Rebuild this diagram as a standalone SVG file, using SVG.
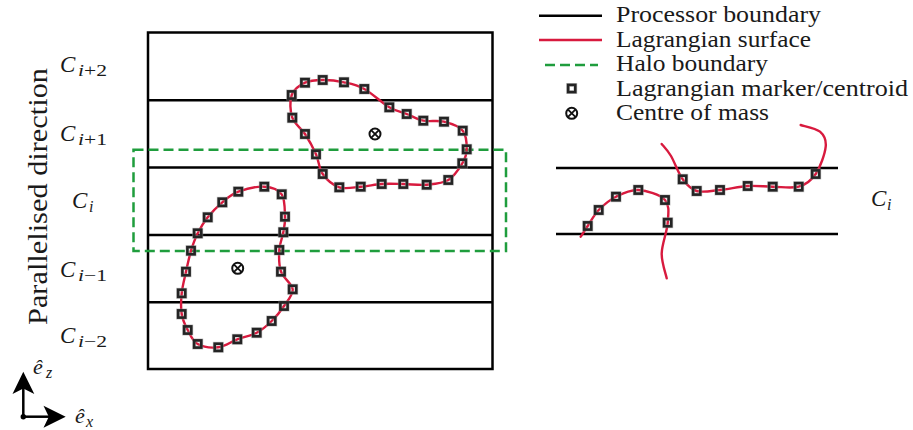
<svg xmlns="http://www.w3.org/2000/svg" xmlns:xlink="http://www.w3.org/1999/xlink" width="913" height="430" viewBox="0 0 913 430">
<style>
.pb{stroke:#000;stroke-width:2.5;fill:none}
.ls{stroke:#d81a3e;stroke-width:2.4;fill:none;stroke-linecap:round}
.hb{stroke:#1f9d3d;stroke-width:2.5;stroke-dasharray:10 5;fill:none}
.t,.m,.s{font-family:"Liberation Serif",serif;fill:#1a1a1a}
.t{font-size:24px}
.m{font-style:italic;font-size:23px}
.s{font-size:16px}
.ax{stroke:#000;stroke-width:2.5;fill:none}
</style>
<defs>
<g id="mk"><rect x="-3.6" y="-3.6" width="7.2" height="7.2" fill="none" stroke="#9a9a9a" stroke-width="3.8" stroke-opacity="0.6"/><rect x="-3.6" y="-3.6" width="7.2" height="7.2" fill="none" stroke="#242424" stroke-width="2.6"/></g>
<g id="com"><circle r="5.5" fill="none" stroke="#111" stroke-width="2"/><path d="M-3.9,-3.9L3.9,3.9M-3.9,3.9L3.9,-3.9" stroke="#111" stroke-width="1.8"/></g>
</defs>
<rect width="913" height="430" fill="#fff"/>

<g id="legend">
<line class="pb" x1="539" y1="15.7" x2="602" y2="15.7"/>
<line class="ls" x1="539" y1="40" x2="602" y2="40" style="stroke-linecap:butt"/>
<line class="hb" x1="545" y1="65" x2="598" y2="65"/>
<use href="#mk" xlink:href="#mk" x="571.7" y="88.5"/>
<use href="#com" xlink:href="#com" x="571.7" y="113.3"/>
<text class="t" x="616" y="22" textLength="205" lengthAdjust="spacingAndGlyphs">Processor boundary</text>
<text class="t" x="616" y="46.5" textLength="195" lengthAdjust="spacingAndGlyphs">Lagrangian surface</text>
<text class="t" x="616" y="71" textLength="152" lengthAdjust="spacingAndGlyphs">Halo boundary</text>
<text class="t" x="616" y="96" textLength="292" lengthAdjust="spacingAndGlyphs">Lagrangian marker/centroid</text>
<text class="t" x="616" y="120" textLength="153" lengthAdjust="spacingAndGlyphs">Centre of mass</text>
</g>

<g id="processor-grid">
<rect class="pb" x="148" y="32.5" width="344.5" height="336.5"/>
<line class="pb" x1="148" y1="100.2" x2="492.5" y2="100.2"/>
<line class="pb" x1="148" y1="167.5" x2="492.5" y2="167.5"/>
<line class="pb" x1="148" y1="235" x2="492.5" y2="235"/>
<line class="pb" x1="148" y1="302.3" x2="492.5" y2="302.3"/>
</g>

<g id="right-cell">
<line class="pb" x1="556" y1="168" x2="838" y2="168"/>
<line class="pb" x1="556" y1="234" x2="838" y2="234"/>
</g>

<g id="halo">
<rect class="hb" x="133.5" y="149.7" width="372.5" height="101.3"/>
</g>

<g id="surfaces">
<path id="upper-body" class="ls" d="M291.7,95 C293.8,89.2 299.8,85.2 305,82.7 C310.2,80.2 316.2,80.1 322.7,80 C329.2,79.9 337.1,80.8 344,82.3 C350.9,83.8 356.8,84.8 364.3,89 C371.9,93.2 382.2,103.1 389.3,107.3 C396.4,111.5 401,111.8 406.7,114 C412.4,116.2 417.1,119.4 423.3,120.7 C429.5,122 437.4,120 444,121.7 C450.6,123.4 458.9,126.1 462.7,130.7 C466.5,135.3 466.8,143.9 466.7,149.3 C466.6,154.7 465.4,158.2 462.3,163.3 C459.2,168.4 454.2,176.4 448.3,180 C442.4,183.6 434.2,184 426.7,184.7 C419.2,185.4 410.8,184.1 403.3,184 C395.8,183.9 388.8,183.6 381.7,184 C374.6,184.5 367.8,186.2 360.7,186.7 C353.6,187.3 345.6,189.4 339.3,187.3 C333,185.2 326.6,179.5 322.7,174 C318.8,168.5 319,161 316,154.3 C313.1,147.6 309,140.1 305,134 C301.1,127.9 294.5,124.2 292.3,117.7 C290.1,111.2 289.6,100.8 291.7,95 Z"/>
<path id="lower-body" class="ls" d="M264.3,186.7 C271.5,187.1 278.3,189.3 281.7,194.3 C285.2,199.3 284.7,210.4 285,216.7 C285.3,223 284.3,226.8 283.3,232.3 C282.4,237.9 279.7,243.4 279.3,250 C278.9,256.6 278.8,265.2 281,271.7 C283.2,278.3 292.2,283.6 292.7,289.3 C293.2,295 287.5,300.7 284,306 C280.5,311.3 276.3,316.6 271.7,321 C267.2,325.5 262.4,329.7 256.7,332.7 C251,335.8 243.7,336.9 237.3,339.3 C230.9,341.7 224.9,346.5 218.3,347.3 C211.7,348.1 202.8,346.9 197.7,344 C192.6,341.1 190.4,335 187.7,330 C185,325 182.7,320.1 181.7,314 C180.7,307.9 181,300.4 181.7,293.3 C182.4,286.3 184.5,278.8 186,271.7 C187.6,264.6 189.1,257.1 191,250.7 C193,244.3 194.9,238.9 197.7,233.3 C200.5,227.7 203.6,222.5 207.7,217.3 C211.8,212.1 217.2,206.6 222.3,202.3 C227.4,198 231.3,194.3 238.3,191.7 C245.3,189.1 257.1,186.3 264.3,186.7 Z"/>
<path id="right-upper" class="ls" d="M661.7,144 C663.3,146 667.5,150.1 671,156 C674.5,161.9 678.4,173.5 682.7,179.3 C687,185.1 690.5,189.2 696.7,191 C702.9,192.8 711.5,190.8 720,190 C728.5,189.2 738.9,186.6 747.7,186 C756.5,185.5 764.2,186.6 772.7,186.7 C781.2,186.8 791.5,188.8 798.7,186.7 C805.9,184.6 811.2,180.7 815.7,174 C820.2,167.3 825,153.8 825.7,146.7 C826.4,139.7 824.2,135.3 820,131.7 C815.8,128.1 803.9,126.1 800.7,125"/>
<path id="right-lower" class="ls" d="M580.7,236.7 C581.9,234.9 584.7,230.5 587.7,226 C590.7,221.6 594,214.9 598.7,210 C603.4,205.1 609.4,200 616,196.7 C622.6,193.4 630.1,189.5 638.3,190 C646.5,190.6 660.1,194.6 665,200 C669.9,205.5 668.3,213.8 667.7,222.7 C667.2,231.6 661.9,244 661.7,253.3 C661.5,262.6 665.9,274.1 666.7,278.3"/>
</g>

<g id="markers">
<use href="#mk" xlink:href="#mk" x="291.7" y="95"/>
<use href="#mk" xlink:href="#mk" x="305" y="82.7"/>
<use href="#mk" xlink:href="#mk" x="322.7" y="80"/>
<use href="#mk" xlink:href="#mk" x="344" y="82.3"/>
<use href="#mk" xlink:href="#mk" x="364.3" y="89"/>
<use href="#mk" xlink:href="#mk" x="389.3" y="107.3"/>
<use href="#mk" xlink:href="#mk" x="406.7" y="114"/>
<use href="#mk" xlink:href="#mk" x="423.3" y="120.7"/>
<use href="#mk" xlink:href="#mk" x="444" y="121.7"/>
<use href="#mk" xlink:href="#mk" x="462.7" y="130.7"/>
<use href="#mk" xlink:href="#mk" x="466.7" y="149.3"/>
<use href="#mk" xlink:href="#mk" x="462.3" y="163.3"/>
<use href="#mk" xlink:href="#mk" x="448.3" y="180"/>
<use href="#mk" xlink:href="#mk" x="426.7" y="184.7"/>
<use href="#mk" xlink:href="#mk" x="403.3" y="184"/>
<use href="#mk" xlink:href="#mk" x="381.7" y="184"/>
<use href="#mk" xlink:href="#mk" x="360.7" y="186.7"/>
<use href="#mk" xlink:href="#mk" x="339.3" y="187.3"/>
<use href="#mk" xlink:href="#mk" x="322.7" y="174"/>
<use href="#mk" xlink:href="#mk" x="316" y="154.3"/>
<use href="#mk" xlink:href="#mk" x="305" y="134"/>
<use href="#mk" xlink:href="#mk" x="292.3" y="117.7"/>

<use href="#mk" xlink:href="#mk" x="264.3" y="186.7"/>
<use href="#mk" xlink:href="#mk" x="281.7" y="194.3"/>
<use href="#mk" xlink:href="#mk" x="285" y="216.7"/>
<use href="#mk" xlink:href="#mk" x="283.3" y="232.3"/>
<use href="#mk" xlink:href="#mk" x="279.3" y="250"/>
<use href="#mk" xlink:href="#mk" x="281" y="271.7"/>
<use href="#mk" xlink:href="#mk" x="292.7" y="289.3"/>
<use href="#mk" xlink:href="#mk" x="284" y="306"/>
<use href="#mk" xlink:href="#mk" x="271.7" y="321"/>
<use href="#mk" xlink:href="#mk" x="256.7" y="332.7"/>
<use href="#mk" xlink:href="#mk" x="237.3" y="339.3"/>
<use href="#mk" xlink:href="#mk" x="218.3" y="347.3"/>
<use href="#mk" xlink:href="#mk" x="197.7" y="344"/>
<use href="#mk" xlink:href="#mk" x="187.7" y="330"/>
<use href="#mk" xlink:href="#mk" x="181.7" y="314"/>
<use href="#mk" xlink:href="#mk" x="181.7" y="293.3"/>
<use href="#mk" xlink:href="#mk" x="186" y="271.7"/>
<use href="#mk" xlink:href="#mk" x="191" y="250.7"/>
<use href="#mk" xlink:href="#mk" x="197.7" y="233.3"/>
<use href="#mk" xlink:href="#mk" x="207.7" y="217.3"/>
<use href="#mk" xlink:href="#mk" x="222.3" y="202.3"/>
<use href="#mk" xlink:href="#mk" x="238.3" y="191.7"/>

<use href="#mk" xlink:href="#mk" x="682.7" y="179.3"/>
<use href="#mk" xlink:href="#mk" x="696.7" y="191"/>
<use href="#mk" xlink:href="#mk" x="720" y="190"/>
<use href="#mk" xlink:href="#mk" x="747.7" y="186"/>
<use href="#mk" xlink:href="#mk" x="772.7" y="186.7"/>
<use href="#mk" xlink:href="#mk" x="798.7" y="186.7"/>
<use href="#mk" xlink:href="#mk" x="815.7" y="174"/>

<use href="#mk" xlink:href="#mk" x="587.7" y="226"/>
<use href="#mk" xlink:href="#mk" x="598.7" y="210"/>
<use href="#mk" xlink:href="#mk" x="616" y="196.7"/>
<use href="#mk" xlink:href="#mk" x="638.3" y="190"/>
<use href="#mk" xlink:href="#mk" x="665" y="200"/>
<use href="#mk" xlink:href="#mk" x="667.7" y="222.7"/>
</g>

<g id="centres">
<use href="#com" xlink:href="#com" x="375" y="134"/>
<use href="#com" xlink:href="#com" x="237.7" y="268.3"/>
</g>

<g id="labels">
<text class="t" x="47" y="325" transform="rotate(-90 47 325)" style="font-size:28px" textLength="257" lengthAdjust="spacingAndGlyphs">Parallelised direction</text>
<text class="m" x="60" y="72">C</text><text class="s" x="78" y="76" textLength="29" lengthAdjust="spacingAndGlyphs"><tspan font-style="italic">i</tspan>+2</text>
<text class="m" x="60" y="141">C</text><text class="s" x="78" y="145" textLength="29" lengthAdjust="spacingAndGlyphs"><tspan font-style="italic">i</tspan>+1</text>
<text class="m" x="72" y="208">C</text><text class="s" x="89" y="212" font-style="italic">i</text>
<text class="m" x="60" y="277">C</text><text class="s" x="78" y="281" textLength="29" lengthAdjust="spacingAndGlyphs"><tspan font-style="italic">i</tspan>−1</text>
<text class="m" x="60" y="343">C</text><text class="s" x="78" y="347" textLength="29" lengthAdjust="spacingAndGlyphs"><tspan font-style="italic">i</tspan>−2</text>
<text class="m" x="871" y="206">C</text><text class="s" x="887" y="210" font-style="italic">i</text>
</g>

<g id="axes">
<line class="ax" x1="23.3" y1="416.7" x2="23.3" y2="388"/>
<polygon points="23.3,371.7 34.3,394 23.3,388.5 12.5,394" fill="#000"/>
<line class="ax" x1="23.3" y1="416.7" x2="49" y2="416.7"/>
<polygon points="65.7,416.7 43.5,427.7 48.8,416.7 43.5,405.7" fill="#000"/>
<circle cx="23.3" cy="416.7" r="2.7" fill="#000"/>
<text class="m" x="33" y="374" style="font-size:22px">ê</text><text class="s" x="46" y="378" font-style="italic">z</text>
<text class="m" x="75" y="423" style="font-size:22px">ê</text><text class="s" x="86" y="427" font-style="italic">x</text>
</g>
</svg>
